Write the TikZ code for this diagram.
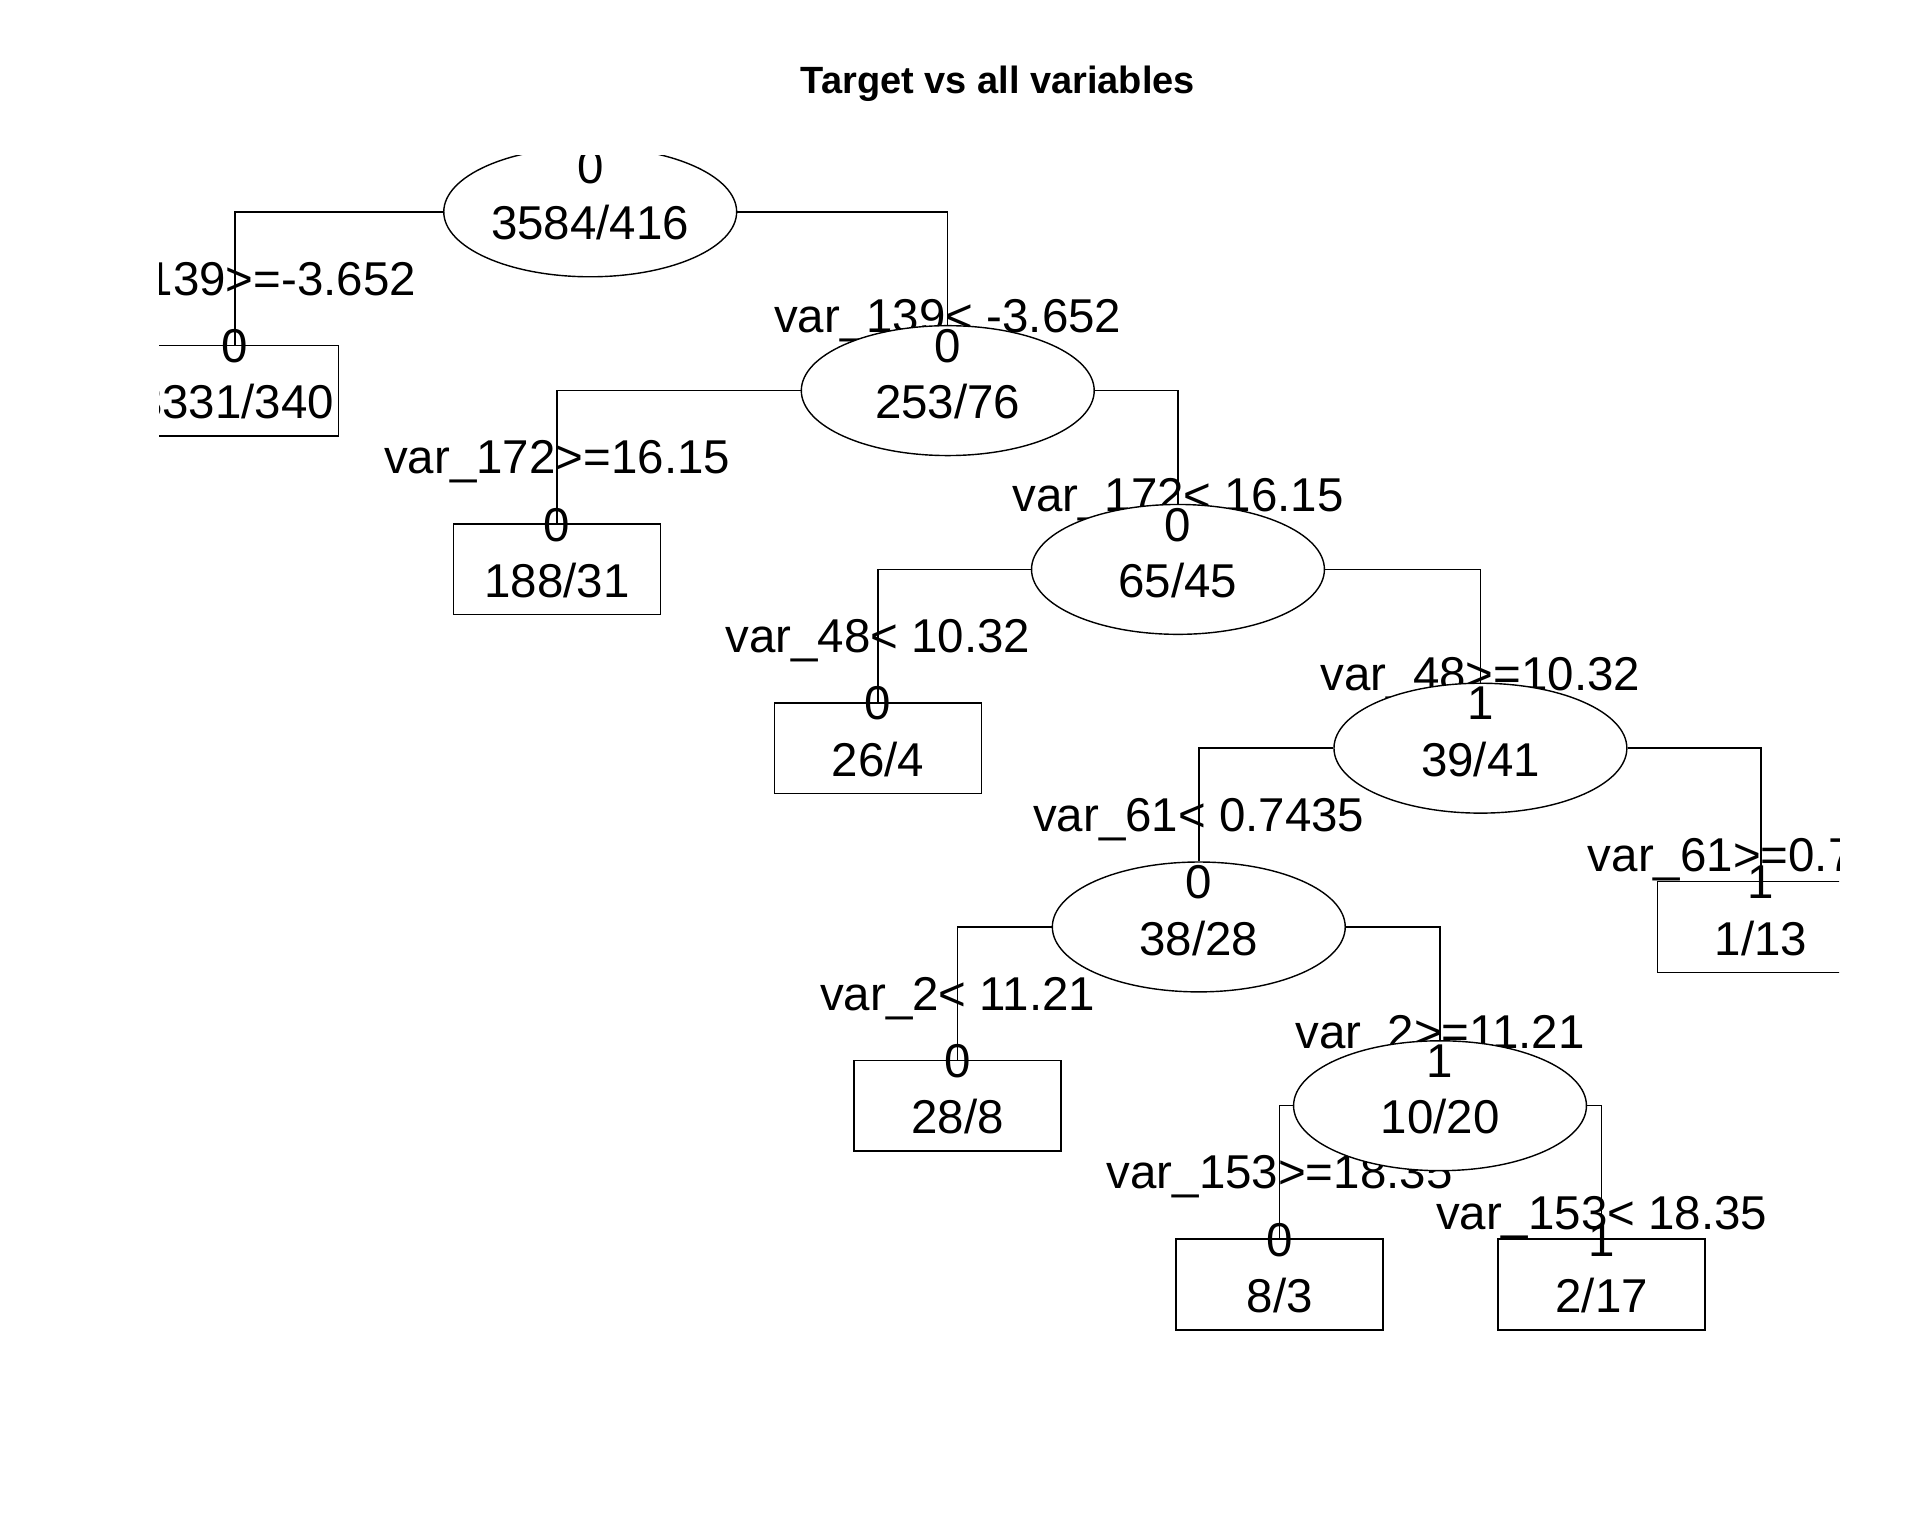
\documentclass[tikz,border=0pt]{standalone}
\usepackage{fontspec}
\setmainfont{Liberation Sans}
\usetikzlibrary{shapes, backgrounds}

\tikzset{
    split/.style={ellipse, draw, fill=white, minimum width=2.927cm, minimum height=1.298cm, inner sep=0pt},
    leaf/.style={rectangle, draw, fill=white, minimum width=2.069cm, minimum height=0.906cm, inner sep=0pt},
    txt/.style={inner sep=0pt, text height=9.7pt, text depth=0pt, font=\fontsize{13.5}{16}\selectfont},
    cls/.style={label={[txt, yshift=0.453cm]center:#1}},
    cnt/.style={label={[txt, yshift=-0.110cm]center:#1}}
}

\begin{document}
\begin{tikzpicture}[x=0.012245cm, y=-0.012245cm]
    \useasboundingbox (0,0) rectangle (1568,1254);
    \node[txt, font=\fontsize{10.8}{13}\selectfont\bfseries, text height=7.7pt] (title) at (815,65) {Target vs all variables};

    \begin{scope}
        \clip (130,127) rectangle (1502,1254);
        \node[split, cls=0, cnt=3584/416] (A) at (482,173) {};
        \node[leaf, cls=0, cnt=3331/340] (B) at (192,319) {};
        \node[split, cls=0, cnt=253/76] (C) at (774,319) {};
        \node[leaf, cls=0, cnt=188/31] (D) at (455,465) {};
        \node[split, cls=0, cnt=65/45] (E) at (962,465) {};
        \node[leaf, cls=0, cnt=26/4] (F) at (717,611) {};
        \node[split, cls=1, cnt=39/41] (G) at (1209,611) {};
        \node[split, cls=0, cnt=38/28] (H) at (979,757) {};
        \node[leaf, cls=1, cnt=1/13] (I) at (1438,757) {};
        \node[leaf, cls=0, cnt=28/8] (J) at (782,903) {};
        \node[split, cls=1, cnt=10/20] (K) at (1176,903) {};
        \node[leaf, cls=0, cnt=8/3] (L) at (1045,1049) {};
        \node[leaf, cls=1, cnt=2/17] (M) at (1308,1049) {};
    \end{scope}

    % edges and split rules go under the nodes
    \begin{pgfonlayer}{background}
        \clip (130,127) rectangle (1502,1254);
        \draw (A.west) -| (B.north);
        \draw (A.east) -| (C.north);
        \draw (C.west) -| (D.north);
        \draw (C.east) -| (E.north);
        \draw (E.west) -| (F.north);
        \draw (E.east) -| (G.north);
        \draw (G.west) -| (H.north);
        \draw (G.east) -| (I.north);
        \draw (H.west) -| (J.north);
        \draw (H.east) -| (K.north);
        \draw (K.west) -| (L.north);
        \draw (K.east) -| (M.north);

        \node[txt] (AB) at (192,227) {var\_139>=-3.652};
        \node[txt] (AC) at (774,258) {var\_139< -3.652};
        \node[txt] (CD) at (455,373) {var\_172>=16.15};
        \node[txt] (CE) at (962,404) {var\_172< 16.15};
        \node[txt] (EF) at (717,519) {var\_48< 10.32};
        \node[txt] (EG) at (1209,550) {var\_48>=10.32};
        \node[txt] (GH) at (979,665) {var\_61< 0.7435};
        \node[txt] (GI) at (1438,698) {var\_61>=0.7435};
        \node[txt] (HJ) at (782,811) {var\_2< 11.21};
        \node[txt] (HK) at (1176,842) {var\_2>=11.21};
        \node[txt] (KL) at (1045,957) {var\_153>=18.35};
        \node[txt] (KM) at (1308,990) {var\_153< 18.35};
    \end{pgfonlayer}
\end{tikzpicture}
\end{document}
